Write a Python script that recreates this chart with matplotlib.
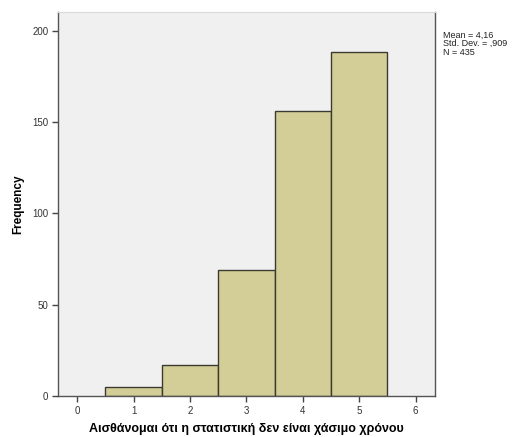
import matplotlib
matplotlib.use("Agg")
import matplotlib.pyplot as plt

plt.rcParams["font.family"] = ["Liberation Sans", "DejaVu Sans"]

# values
categories = [1, 2, 3, 4, 5]
frequencies = [5, 17, 69, 156, 188]
x_ticks = [0, 1, 2, 3, 4, 5, 6]
y_ticks = [0, 50, 100, 150, 200]
stats_text = "Mean = 4,16\nStd. Dev. = ,909\nN = 435"
x_label = "Αισθάνομαι ότι η στατιστική δεν είναι χάσιμο χρόνου"
y_label = "Frequency"

fig = plt.figure(figsize=(5.14, 4.37), dpi=100)
ax = fig.add_axes([0.113, 0.094, 0.733, 0.878])
ax.set_facecolor("#f0f0f0")

ax.bar(categories, frequencies, width=1.0, color="#d3ce97",
       edgecolor="#3a3a30", linewidth=1.0, zorder=2)

ax.set_xlim(-0.34, 6.34)
ax.set_ylim(0, 210)
ax.set_xticks(x_ticks)
ax.set_yticks(y_ticks)
ax.tick_params(axis="both", direction="out", length=4, width=1,
               color="#444444", labelsize=7, labelcolor="#333333", pad=3)

for side in ["left", "bottom", "right"]:
    ax.spines[side].set_color("#555555")
    ax.spines[side].set_linewidth(1.0)
ax.spines["top"].set_color("#d8d8d8")

ax.set_ylabel(y_label, fontsize=8.5, fontweight="bold", labelpad=6)
ax.set_xlabel(x_label, fontsize=9, fontweight="bold", labelpad=5)

fig.text(0.862, 0.93, stats_text, fontsize=6.5, va="top", ha="left",
         color="#222222", linespacing=0.95)

fig.savefig("out.png", dpi=100)
